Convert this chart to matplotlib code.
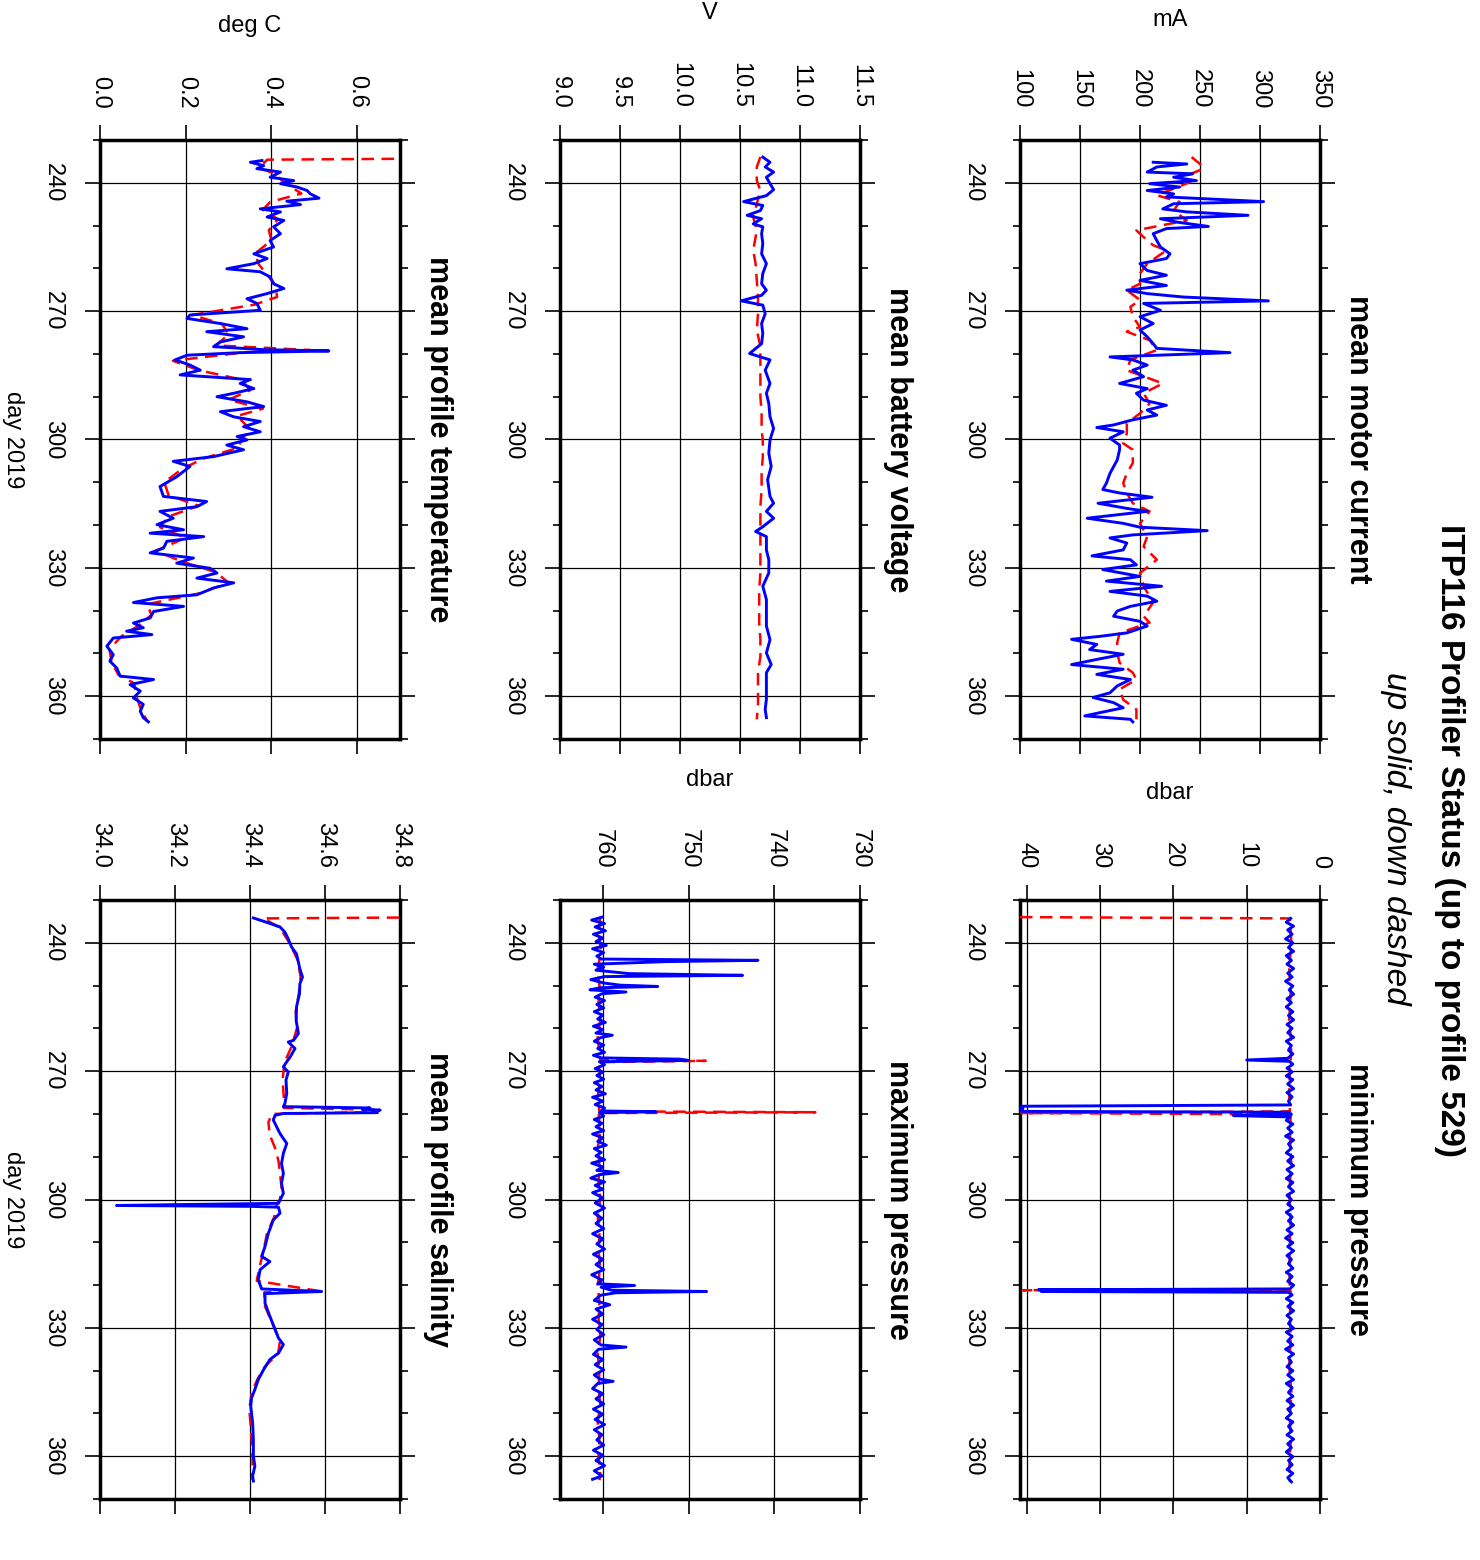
import numpy as np
import matplotlib.pyplot as plt
from matplotlib.ticker import MultipleLocator, FormatStrFormatter

plt.rcParams['font.family'] = ['Liberation Sans', 'DejaVu Sans']

# ---------------- data (day of 2019, value) ----------------
# mean motor current (mA)
mc_up_day = [235.2, 235.6, 236.3, 237.5, 237.9, 238.7, 239.5, 240.2, 241.0, 241.8,
             242.6, 243.3, 244.4, 244.9, 246.1, 246.8, 247.6, 248.4, 249.2, 250.2,
             250.7, 251.9, 253.5, 255.0, 256.6, 257.7, 258.9, 260.5, 261.6, 262.8,
             264.0, 265.1, 265.9, 266.7, 267.6, 268.2, 269.8, 271.3, 272.9, 274.4,
             276.0, 277.6, 278.7, 279.7, 280.7, 281.4, 282.6, 283.8, 285.3, 286.9,
             288.1, 289.2, 290.8, 292.0, 293.1, 294.3, 295.4, 296.6, 297.2, 298.2,
             299.7, 301.3,
             302.4, 304.8, 307.9, 310.2, 311.7, 312.5, 313.5, 314.9, 316.1, 316.8,
             318.4, 319.6, 320.5, 321.3, 322.3, 323.0, 324.2, 325.8, 327.2, 328.1,
             329.3, 330.4, 332.0, 333.1, 334.3, 335.5, 336.6, 337.8, 339.0, 340.1,
             341.3, 342.5, 343.6, 345.2, 346.0, 346.7, 347.9, 349.1, 350.2, 351.4,
             352.6, 353.7, 354.9, 356.1, 357.6, 359.2, 360.3, 361.5, 362.7, 363.7,
             364.6, 365.4, 366.0]
mc_up_val = [211, 239, 214, 206, 244, 228, 247, 208, 233, 206,
             228, 222, 303, 228, 219, 239, 290, 217, 231, 257,
             222, 211, 214, 217, 225, 222, 200, 206, 222, 200,
             222, 189, 206, 236, 307, 203, 217, 200, 211, 200,
             206, 211, 214, 275, 175, 194, 206, 194, 203, 183,
             206, 197, 203, 222, 206, 214, 194, 178, 164, 186,
             175, 183,
             183, 181, 175, 172, 169, 183, 210, 165, 189, 206,
             156, 186, 200, 256, 194, 175, 189, 186, 160, 192,
             197, 169, 200, 172, 218, 175, 206, 214, 192, 181,
             178, 200, 206, 189, 167, 143, 164, 158, 186, 164,
             143, 186, 164, 192, 181, 175, 161, 178, 186, 169,
             154, 192, 194]
mc_dn_day = [234.0, 235.6, 236.7, 238.3, 239.8, 241.4, 242.9, 244.5, 246.5, 248.8,
             251.1, 252.7, 254.6, 255.8, 258.9, 261.2, 263.6, 265.1, 267.4, 269.0,
             271.3, 273.7, 274.8, 276.8, 279.1, 281.4, 283.8, 286.9, 289.2, 291.6,
             293.9, 296.2, 298.6, 300.9, 302.4, 305.5, 307.9, 310.2, 312.5, 314.9,
             316.8, 319.6, 322.7, 325.0, 328.1, 331.2, 334.3, 338.1, 341.3, 342.8,
             345.2, 347.5, 349.8, 352.2, 354.5, 356.1, 358.4, 360.8, 363.1, 365.4]
mc_dn_val = [243, 250, 253, 239, 242, 228, 214, 233, 228, 239,
             197, 203, 211, 222, 206, 200, 200, 189, 200, 192,
             194, 200, 189, 208, 214, 192, 189, 219, 203, 208,
             200, 189, 189, 186, 194, 194, 189, 186, 189, 194,
             208, 200, 206, 203, 214, 200, 203, 211, 203, 208,
             183, 181, 181, 183, 194, 197, 183, 186, 197, 197]

# minimum pressure (dbar)
mp_up_day = [234.3, 235.2, 236.1, 237.0, 238.0, 239.1, 240.0, 241.1, 242.0, 243.0,
             244.1, 245.0, 246.0, 247.1, 248.0, 249.0, 250.1, 251.0, 252.0, 253.1,
             254.0, 255.0, 256.1, 257.0, 258.0, 259.1, 260.0, 261.0, 262.1, 263.0,
             264.0, 265.1, 266.0, 267.0, 267.4, 267.7, 268.4, 269.3, 270.2, 271.1,
             272.0, 273.0, 274.1, 275.0, 276.0, 277.0, 277.9, 278.2, 278.5, 278.8,
             279.1, 279.4, 279.6, 280.1, 280.4, 280.7, 281.5, 282.4, 283.3, 284.3,
             285.2, 286.1, 287.0, 288.0, 289.1, 290.0, 291.0, 292.1, 293.0, 294.0,
             295.1, 296.0, 297.0, 298.1, 299.0, 300.0, 301.1, 302.0, 303.0, 304.1,
             305.0, 306.0, 307.1, 308.0, 309.0, 310.1, 311.0, 312.0, 313.1, 314.0,
             315.0, 316.1, 317.0, 318.0, 319.1, 320.0, 320.9, 321.1, 321.3, 321.5,
             321.7, 322.3, 323.2, 324.1, 325.0, 326.0, 327.1, 328.0, 329.0, 330.1,
             331.0, 332.0, 333.1, 334.0, 335.0, 336.1, 337.0, 338.0, 339.1, 340.0,
             341.0, 342.1, 343.0, 344.0, 345.1, 346.0, 347.0, 348.1, 349.0, 350.0,
             351.1, 352.0, 353.0, 354.1, 355.0, 356.0, 357.1, 358.0, 359.0, 360.1,
             361.0, 362.0, 363.1, 364.0, 365.0, 366.0]
mp_up_val = [4.0, 4.6, 3.6, 4.4, 3.8, 4.7, 3.7, 4.3, 3.6, 4.6,
             3.9, 4.5, 3.6, 4.4, 3.8, 4.7, 3.7, 4.2, 3.6, 4.5,
             3.9, 4.6, 3.7, 4.3, 3.6, 4.5, 3.8, 4.4, 3.6, 4.6,
             3.9, 4.3, 3.7, 4.4, 10.0, 4.2, 3.7, 4.5, 3.8, 4.6,
             3.7, 4.4, 3.6, 4.5, 3.8, 4.3, 4.0, 40.6, 40.8, 40.5,
             40.9, 40.6, 4.2, 3.9, 11.8, 4.1, 4.6, 3.7, 4.4, 3.8,
             4.7, 3.6, 4.3, 3.9, 4.6, 3.7, 4.4, 3.6, 4.5, 3.8,
             4.6, 3.7, 4.3, 3.6, 4.5, 3.9, 4.4, 3.7, 4.6, 3.8,
             4.3, 3.6, 4.5, 3.8, 4.7, 3.7, 4.4, 3.6, 4.5, 3.9,
             4.3, 3.7, 4.6, 3.8, 4.4, 3.6, 4.1, 38.4, 21.8, 38.0,
             4.3, 3.8, 4.6, 3.7, 4.4, 3.6, 4.5, 3.9, 4.3, 3.6,
             4.6, 3.8, 4.4, 3.7, 4.7, 3.6, 4.3, 3.9, 4.5, 3.7,
             4.4, 3.6, 4.6, 3.8, 4.3, 3.7, 4.5, 3.6, 4.4, 3.9,
             4.6, 3.7, 4.3, 3.8, 4.5, 3.6, 4.4, 3.9, 4.6, 3.7,
             4.3, 3.8, 4.5, 3.7, 4.4, 3.9]
mp_dn_day = [234.0, 234.3, 240.0, 246.0, 252.0, 258.0, 264.0, 270.0, 276.0, 279.4,
             279.8, 280.1, 286.0, 292.0, 298.0, 304.0, 310.0, 316.0, 321.0, 321.2,
             321.4, 327.0, 333.0, 339.0, 345.0, 351.0, 357.0, 363.0, 366.0]
mp_dn_val = [40.9, 4.1, 3.9, 4.2, 4.0, 4.2, 3.9, 4.1, 4.2, 4.1,
             40.7, 4.0, 4.1, 3.9, 4.2, 4.0, 4.1, 4.2, 4.1, 40.5,
             4.0, 4.1, 4.0, 4.2, 3.9, 4.1, 4.0, 4.2, 4.1]

# mean battery voltage (V)
bv_up_day = [234.0, 235.2, 236.3, 237.5, 238.7, 240.2, 241.6, 243.0, 244.4, 245.3,
             246.5, 247.6, 248.4, 249.6, 250.3, 251.9, 254.2, 256.6, 258.9, 261.2,
             263.6, 265.1, 266.3, 267.6, 268.6, 270.6, 272.9, 275.2, 277.6, 279.9,
             281.4, 283.8, 286.9, 289.2, 291.6, 294.7, 297.4, 300.1,
             303.2, 306.3, 309.4, 313.3, 314.9, 316.8, 318.4, 320.4, 321.5, 322.7,
             325.8, 328.1, 331.2, 334.3, 337.4, 340.5, 343.6, 346.8, 349.9, 352.6,
             354.5, 357.6, 360.7, 363.1, 365.0]
bv_up_val = [10.69, 10.75, 10.71, 10.78, 10.72, 10.75, 10.78, 10.72, 10.53, 10.69,
             10.67, 10.56, 10.68, 10.61, 10.69, 10.68, 10.69, 10.68, 10.72, 10.69,
             10.68, 10.72, 10.68, 10.51, 10.69, 10.71, 10.68, 10.69, 10.68, 10.58,
             10.75, 10.71, 10.75, 10.72, 10.74, 10.75, 10.78, 10.75,
             10.74, 10.76, 10.73, 10.75, 10.78, 10.72, 10.78, 10.69, 10.63, 10.72,
             10.72, 10.74, 10.74, 10.69, 10.72, 10.72, 10.72, 10.75, 10.72, 10.76,
             10.72, 10.72, 10.72, 10.71, 10.72]
bv_dn_day = [234.0, 236.3, 239.5, 241.8, 244.9, 248.0, 251.1, 255.8, 258.9, 262.8,
             266.7, 270.6, 274.4, 278.3, 282.2, 286.1, 290.0, 293.9, 297.8,
             300.1, 304.0, 307.9, 311.7, 315.6, 320.4, 323.5, 327.4, 331.2, 335.1,
             339.0, 342.9, 346.8, 350.7, 354.6, 358.4, 362.3, 365.4]
bv_dn_val = [10.67, 10.64, 10.64, 10.67, 10.64, 10.61, 10.64, 10.61, 10.63, 10.64,
             10.65, 10.65, 10.64, 10.67, 10.67, 10.67, 10.67, 10.68, 10.68,
             10.69, 10.69, 10.68, 10.68, 10.67, 10.67, 10.67, 10.67, 10.67, 10.66,
             10.66, 10.66, 10.67, 10.67, 10.65, 10.65, 10.65, 10.64]

# maximum pressure (dbar)
xp_up_day = [234.0, 234.7, 235.5, 236.3, 237.2, 238.0, 238.9, 239.7, 240.6, 241.4,
             242.3, 243.1, 243.8, 244.1, 244.4, 245.0, 245.7, 246.4, 247.2, 247.6,
             247.9, 248.6, 249.4, 249.9, 250.2, 250.5, 251.0, 251.5, 251.9, 252.7,
             253.5, 254.4, 255.2, 256.1, 256.9, 257.8, 258.6, 259.5, 260.3, 261.1,
             261.6, 262.2, 263.0, 263.9, 264.7, 265.6, 266.3, 266.9, 267.2, 267.5,
             267.8, 268.5, 269.4, 270.2, 271.0, 271.9, 272.7, 273.6, 274.4, 275.3,
             276.1, 277.0, 277.8, 278.6, 279.3, 279.5, 279.7, 280.5, 281.3, 282.2,
             283.0, 283.9, 284.7, 285.6, 286.4, 287.3, 288.1, 289.0, 289.8, 290.7,
             291.5, 292.4, 293.2, 293.7, 294.2, 295.0, 295.9, 296.7, 297.6, 298.4,
             299.6, 300.8, 302.0, 303.2, 304.4, 305.6, 306.8, 308.0, 309.2, 310.4,
             311.6, 312.8, 314.0, 315.2, 316.4, 317.6, 318.8, 319.7, 320.1, 320.5,
             321.2, 321.5, 321.8, 322.4, 323.6, 324.6, 325.6, 326.8, 328.0, 329.2,
             330.4, 331.6, 332.8, 334.0, 334.5, 335.0, 336.2, 337.4, 338.6, 339.8,
             341.0, 342.0, 342.5, 343.0, 344.2, 345.4, 346.6, 347.8, 349.0, 350.2,
             351.4, 352.6, 353.8, 355.0, 356.2, 357.4, 358.6, 359.8, 361.0, 362.2,
             363.4, 364.6, 365.4]
xp_up_val = [760.1, 761.3, 759.8, 760.9, 759.7, 761.1, 760.0, 760.8, 759.6, 761.2,
             759.9, 760.7, 760.2, 741.9, 752.6, 761.0, 759.9, 760.8, 757.0, 743.7,
             759.8, 761.4, 759.9, 758.0, 753.6, 760.3, 761.5, 757.3, 760.1, 760.9,
             759.8, 760.7, 759.9, 761.0, 760.0, 760.6, 759.7, 761.1, 760.0, 760.8,
             758.9, 760.3, 761.0, 759.9, 760.6, 759.8, 761.1, 760.2, 751.0, 750.0,
             760.4, 759.8, 760.9, 760.0, 760.7, 759.9, 761.0, 760.1, 760.8, 759.7,
             761.2, 760.0, 760.9, 759.8, 760.2, 753.8, 760.4, 759.9, 761.0, 760.1,
             760.8, 759.9, 761.2, 760.0, 760.6, 759.6, 761.0, 760.2, 760.8, 759.8,
             761.3, 760.0, 760.7, 758.2, 760.4, 761.4, 759.8, 760.9, 760.0, 761.2,
             760.0, 760.9, 759.8, 761.0, 760.1, 760.8, 759.9, 761.2, 760.0, 760.7,
             759.8, 761.1, 760.0, 760.8, 759.9, 761.3, 760.1, 760.6, 756.3, 760.2,
             759.0, 747.9, 758.5, 760.3, 761.0, 759.2, 760.8, 760.0, 761.2, 760.1,
             760.7, 759.9, 761.0, 760.2, 757.3, 760.5, 761.1, 760.0, 760.9, 759.9,
             761.0, 760.3, 758.8, 760.6, 761.2, 760.0, 760.8, 759.9, 761.1, 760.0,
             760.9, 759.8, 761.0, 760.1, 760.7, 759.9, 761.1, 760.0, 760.8, 759.8,
             761.0, 760.1, 761.2]
xp_dn_day = [234.0, 238.0, 242.0, 246.0, 250.0, 254.0, 258.0, 262.0, 266.0, 267.4,
             267.6, 267.9, 272.0, 276.0, 279.4, 279.6, 279.8, 284.0, 288.0, 292.0,
             296.0, 300.0, 304.0, 308.0, 312.0, 316.0, 320.0, 324.0, 328.0, 332.0,
             336.0, 340.0, 344.0, 348.0, 352.0, 356.0, 360.0, 364.0, 365.6]
xp_dn_val = [760.3, 760.5, 760.2, 760.6, 760.4, 760.5, 760.3, 760.6, 760.4, 760.3,
             748.0, 760.5, 760.3, 760.6, 760.4, 735.2, 760.5, 760.3, 760.6, 760.4,
             760.5, 760.3, 760.6, 760.4, 760.5, 760.3, 760.6, 760.4, 760.5, 760.3,
             760.6, 760.4, 760.5, 760.3, 760.6, 760.4, 760.5, 760.3, 760.4]

# mean profile temperature (deg C)
tp_up_day = [234.8, 235.2, 236.0, 236.7, 237.5, 238.7, 239.5, 240.2, 241.0, 241.8,
             242.6, 243.6, 244.3, 245.1, 246.1, 246.8, 248.0, 248.8, 250.3, 251.9,
             253.5, 255.0, 256.6, 257.7, 258.9, 260.1, 260.8, 262.0, 263.6, 264.7,
             265.9, 267.1, 268.2, 269.8, 270.9, 271.7, 272.9, 274.1, 274.8, 276.0,
             277.2, 278.3, 279.0, 279.3, 279.7, 280.3, 281.4, 282.6, 283.8, 284.9,
             286.0, 286.9, 288.1, 289.2, 290.0, 291.2, 292.3, 293.5, 294.7, 295.8,
             297.0, 298.2, 299.3,
             300.1, 301.3, 302.4, 304.0, 305.1, 306.3, 308.7, 311.0, 313.3, 314.5,
             315.7, 316.8, 318.4, 319.9, 321.1, 321.9, 322.7, 323.8, 325.4, 326.5,
             327.7, 328.9, 330.1, 331.2, 332.4, 333.5, 334.7, 336.3, 337.0, 338.1,
             339.0, 340.2, 341.7, 342.9, 344.0, 344.8, 345.6, 346.4, 348.3, 350.3,
             351.8, 353.4, 355.3, 356.1, 357.3, 358.8, 360.4, 361.9, 363.5, 365.0,
             366.0]
tp_up_val = [0.378, 0.351, 0.382, 0.366, 0.421, 0.397, 0.452, 0.421, 0.460, 0.483,
             0.491, 0.511, 0.436, 0.468, 0.374, 0.421, 0.390, 0.429, 0.405, 0.421,
             0.397, 0.405, 0.359, 0.390, 0.359, 0.296, 0.374, 0.397, 0.405, 0.429,
             0.390, 0.343, 0.366, 0.374, 0.210, 0.203, 0.281, 0.343, 0.249, 0.335,
             0.281, 0.265, 0.382, 0.534, 0.327, 0.203, 0.175, 0.210, 0.234, 0.187,
             0.351, 0.327, 0.359, 0.312, 0.273, 0.343, 0.382, 0.281, 0.312, 0.374,
             0.335, 0.374, 0.320,
             0.343, 0.296, 0.335, 0.265, 0.171, 0.210, 0.179, 0.140, 0.148, 0.249,
             0.226, 0.140, 0.171, 0.133, 0.195, 0.117, 0.242, 0.156, 0.148, 0.117,
             0.218, 0.179, 0.257, 0.273, 0.226, 0.312, 0.265, 0.226, 0.133, 0.078,
             0.195, 0.125, 0.117, 0.078, 0.101, 0.062, 0.121, 0.031, 0.016, 0.031,
             0.023, 0.039, 0.047, 0.125, 0.070, 0.094, 0.078, 0.101, 0.094, 0.101,
             0.113]
tp_dn_day = [234.4, 234.6, 236.5, 238.0, 240.0, 242.5, 244.5, 246.3, 248.5, 251.1,
             253.5, 256.5, 259.0, 261.5, 264.0, 266.7, 268.5, 270.9, 273.0, 275.5,
             278.0, 279.1, 279.6, 281.6, 283.8, 286.0, 288.5, 290.7, 292.8, 294.5,
             297.6, 299.5, 302.0, 304.5, 307.0, 310.0, 313.0, 315.5, 318.0, 320.5,
             323.0, 326.0, 328.5, 331.0, 333.5, 336.0, 338.5, 341.0, 343.5, 346.0,
             349.0, 352.0, 355.0, 357.0, 360.0, 363.0, 365.8]
tp_dn_val = [0.686, 0.390, 0.372, 0.410, 0.430, 0.470, 0.397, 0.380, 0.415, 0.394,
             0.400, 0.362, 0.370, 0.390, 0.410, 0.413, 0.360, 0.215, 0.285, 0.300,
             0.270, 0.491, 0.340, 0.170, 0.230, 0.330, 0.350, 0.300, 0.380, 0.320,
             0.350, 0.335, 0.320, 0.240, 0.190, 0.150, 0.160, 0.230, 0.160, 0.140,
             0.200, 0.130, 0.190, 0.270, 0.300, 0.230, 0.110, 0.120, 0.090, 0.050,
             0.022, 0.027, 0.043, 0.080, 0.085, 0.095, 0.110]

# mean profile salinity
sa_up_day = [234.2, 235.2, 236.3, 237.5, 239.1, 241.0, 242.6, 244.5, 246.1, 248.0,
             249.6, 251.9, 255.0, 258.1, 261.2, 262.8, 263.2, 264.7, 266.7, 267.8,
             269.0, 270.2, 272.1, 275.2, 277.6, 278.3, 278.6, 278.9, 279.1, 279.4,
             279.7, 279.9, 280.3, 281.4, 283.0, 284.6, 286.9, 289.2, 291.6, 293.9,
             296.2, 298.6, 300.1, 300.9, 301.2, 301.4, 301.6, 301.8, 303.2, 304.8,
             307.9, 311.0, 313.3, 314.5, 316.4, 318.8, 320.9, 321.5, 322.0, 324.2,
             327.3, 330.4, 332.4, 333.9, 335.9, 337.4, 339.8, 342.1, 344.4, 346.4,
             348.3, 352.2, 356.1, 360.0, 362.3, 364.6, 365.8]
sa_up_val = [34.409, 34.444, 34.480, 34.493, 34.502, 34.511, 34.524, 34.529, 34.533, 34.540,
             34.533, 34.532, 34.524, 34.523, 34.529, 34.516, 34.502, 34.520, 34.507, 34.498,
             34.489, 34.502, 34.496, 34.498, 34.493, 34.489, 34.720, 34.700, 34.747, 34.730,
             34.740, 34.489, 34.467, 34.462, 34.471, 34.480, 34.498, 34.489, 34.484, 34.489,
             34.484, 34.489, 34.480, 34.476, 34.200, 34.044, 34.400, 34.476, 34.480, 34.462,
             34.449, 34.440, 34.431, 34.453, 34.427, 34.422, 34.431, 34.591, 34.440, 34.440,
             34.453, 34.467, 34.476, 34.489, 34.476, 34.453, 34.436, 34.422, 34.413, 34.404,
             34.402, 34.407, 34.409, 34.409, 34.413, 34.407, 34.409]
sa_dn_day = [234.1, 234.3, 236.5, 240.0, 244.0, 248.0, 252.0, 256.0, 260.0, 264.0,
             268.0, 272.0, 276.0, 278.6, 279.0, 279.6, 280.0, 282.0, 285.0, 288.0,
             291.0, 294.0, 297.0, 300.0, 301.4, 304.0, 308.0, 312.0, 316.0, 319.0,
             321.4, 321.7, 325.0, 329.0, 333.0, 336.0, 339.0, 342.0, 345.0, 349.0,
             353.0, 357.0, 361.0, 365.5]
sa_dn_val = [34.798, 34.436, 34.480, 34.505, 34.527, 34.535, 34.530, 34.522, 34.525, 34.512,
             34.492, 34.487, 34.490, 34.490, 34.730, 34.720, 34.458, 34.449, 34.453, 34.467,
             34.476, 34.480, 34.484, 34.480, 34.470, 34.465, 34.445, 34.436, 34.425, 34.418,
             34.585, 34.438, 34.440, 34.460, 34.480, 34.475, 34.440, 34.420, 34.405, 34.398,
             34.402, 34.405, 34.407, 34.406]

W, H = 1480, 1560


def box(x0, y0, x1, y1):
    # pixel box measured from the top-left corner -> figure fraction rect
    return [x0 / W, 1 - y1 / H, (x1 - x0) / W, (y1 - y0) / H]


def status_panel(ax, up_day, up_val, dn_day, dn_val, xlim, xstep, fmt, title,
                 unit=None, daylabel=False):
    # day runs down the page, value runs across (page turned on its side)
    ax.plot(dn_val, dn_day, color='red', lw=1.8, ls=(0, (5, 3)), zorder=3)
    ax.plot(up_val, up_day, color='blue', lw=2.1, zorder=4)

    ax.set_xlim(*xlim)
    ax.set_ylim(370, 230)
    ax.xaxis.set_major_locator(MultipleLocator(xstep))
    ax.xaxis.set_major_formatter(FormatStrFormatter(fmt))
    ax.yaxis.set_major_locator(MultipleLocator(30))
    ax.yaxis.set_minor_locator(MultipleLocator(10))

    ax.tick_params(axis='x', which='major', direction='out', top=True, bottom=True,
                   labeltop=True, labelbottom=False, length=10.8, width=1.2,
                   pad=12, labelsize=17, labelrotation=-90)
    ax.tick_params(axis='y', which='major', direction='out', left=True, right=True,
                   labelleft=True, labelright=False, length=10.8, width=1.2,
                   pad=15, labelsize=17, labelrotation=-90)
    ax.tick_params(axis='y', which='minor', direction='out', left=True, right=True,
                   length=5.4, width=1.2)
    for lbl in ax.get_yticklabels():
        lbl.set_va('center')

    ax.grid(True, which='major', color='black', lw=0.9)
    for sp in ax.spines.values():
        sp.set_linewidth(2.5)

    ax.text(1.127, 0.5, title, transform=ax.transAxes, rotation=-90,
            ha='center', va='center', fontsize=22, fontweight='bold')

    if unit:
        ax.xaxis.set_label_position('top')
        ax.set_xlabel(unit, fontsize=17, labelpad=31)

    if daylabel:
        ax.text(-0.29, 0.5, 'day 2019', transform=ax.transAxes, rotation=-90,
                ha='center', va='center', fontsize=17)


# Main
fig = plt.figure(figsize=(14.8, 15.6), dpi=100)

ax_mc = fig.add_axes(box(1020, 140, 1320, 739))
ax_mp = fig.add_axes(box(1020, 900, 1320, 1499))
ax_bv = fig.add_axes(box(560, 140, 860, 739))
ax_xp = fig.add_axes(box(560, 900, 860, 1499))
ax_tp = fig.add_axes(box(100, 140, 400, 739))
ax_sa = fig.add_axes(box(100, 900, 400, 1499))

status_panel(ax_mc, mc_up_day, mc_up_val, mc_dn_day, mc_dn_val, (100, 350), 50, '%d',
             'mean motor current', unit='mA')
status_panel(ax_mp, mp_up_day, mp_up_val, mp_dn_day, mp_dn_val, (40.9, 0), 10, '%d',
             'minimum pressure', unit='dbar')
status_panel(ax_bv, bv_up_day, bv_up_val, bv_dn_day, bv_dn_val, (9.0, 11.5), 0.5, '%.1f',
             'mean battery voltage', unit='V')
status_panel(ax_xp, xp_up_day, xp_up_val, xp_dn_day, xp_dn_val, (765, 730), 10, '%d',
             'maximum pressure', unit='dbar')
status_panel(ax_tp, tp_up_day, tp_up_val, tp_dn_day, tp_dn_val, (0.0, 0.7), 0.2, '%.1f',
             'mean profile temperature', unit='deg C', daylabel=True)
status_panel(ax_sa, sa_up_day, sa_up_val, sa_dn_day, sa_dn_val, (34.0, 34.8), 0.2, '%.1f',
             'mean profile salinity', daylabel=True)

fig.text(1450 / W, 1 - 840 / H, 'ITP116 Profiler Status (up to profile 529)',
         rotation=-90, ha='center', va='center', fontsize=24, fontweight='bold')
fig.text(1396 / W, 1 - 838 / H, 'up solid, down dashed',
         rotation=-90, ha='center', va='center', fontsize=24, style='italic')

fig.savefig('out.png', dpi=100)
